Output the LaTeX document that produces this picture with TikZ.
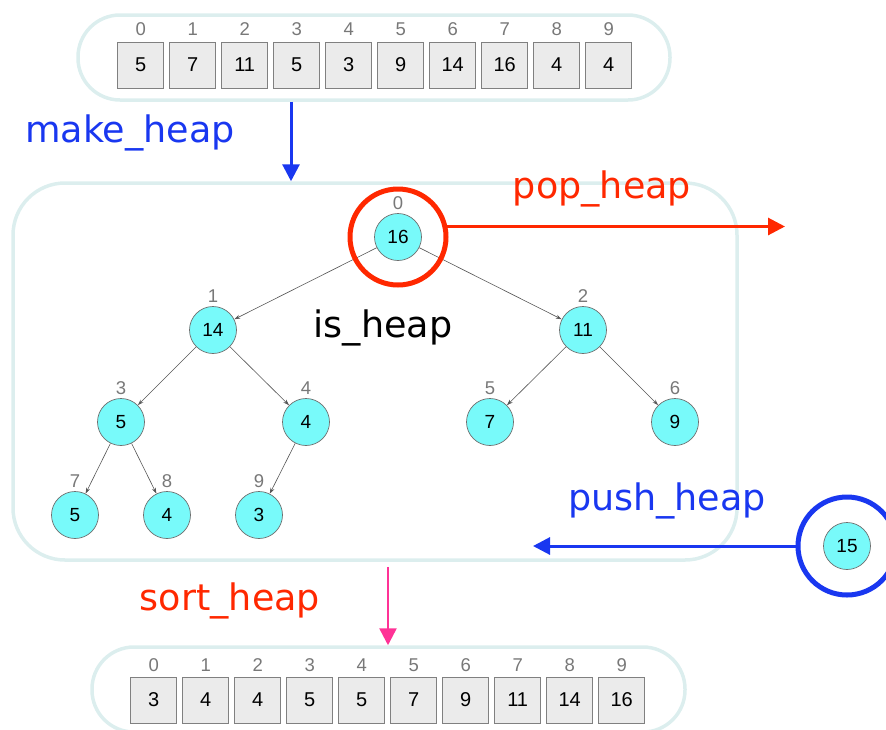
\documentclass[tikz,border=0pt]{standalone}
\usepackage{fontspec}
\setmainfont{Liberation Sans}
\newfontfamily\opfont{DejaVu Sans}
\usepackage{xcolor}
\usepackage{tikz}
\usetikzlibrary{arrows.meta}

\definecolor{opazul}{RGB}{25,55,240}
\definecolor{oprojo}{RGB}{255,40,0}
\definecolor{oprosa}{RGB}{255,50,150}
\definecolor{cajaborde}{RGB}{220,238,238}
\definecolor{celdafondo}{RGB}{235,235,235}
\definecolor{celdaborde}{RGB}{128,128,128}
\definecolor{nodofondo}{RGB}{120,250,250}
\definecolor{nodoborde}{RGB}{110,110,110}
\definecolor{indicegris}{RGB}{120,120,120}
\definecolor{aristagris}{RGB}{85,85,85}

\begin{document}
\begin{tikzpicture}[x=1pt,y=-1pt,
		celda/.style={draw=celdaborde, fill=celdafondo, line width=0.9pt, minimum width=46pt, minimum height=46pt, inner sep=0pt, font=\fontsize{20}{22}\selectfont},
		indice/.style={text=indicegris, inner sep=0pt, font=\fontsize{18.5}{20}\selectfont},
		nodo/.style={circle, draw=nodoborde, fill=nodofondo, line width=0.7pt, minimum size=47pt, inner sep=0pt, font=\fontsize{19}{21}\selectfont},
		caja/.style={draw=cajaborde, line width=3.5pt, inner sep=0pt},
		anillo/.style={circle, line width=5pt, inner sep=0pt},
		operacion/.style={font=\opfont\fontsize{36.5}{40}\selectfont, inner sep=0pt, anchor=base},
		arista/.style={draw=aristagris, line width=0.6pt, -{Stealth[length=6pt,width=4pt]}},
		flecha/.style={line width=3pt, -{Triangle[length=17pt,width=17pt]}}
	]
		\useasboundingbox (0,0) rectangle (886,729);
		\clip (0,0) rectangle (886,729);
		
		% cajas redondeadas de fondo
		\node[caja, rounded corners=42pt, minimum width=592pt, minimum height=85pt] (cajaini) at (374,57.5) {};
		\node[caja, rounded corners=52pt, minimum width=724pt, minimum height=377pt] (cajaheap) at (375,371.5) {};
		\node[caja, rounded corners=42pt, minimum width=593pt, minimum height=85pt] (cajafin) at (388.5,689.5) {};
		
		% vector inicial con sus índices
		\foreach \v [count=\i from 0] in {5,7,11,5,3,9,14,16,4,4} {
			\node[celda] (ini\i) at (140.7+52*\i,65) {\v};
			\node[indice] (iniidx\i) at (140.7+52*\i,29) {\i};
		}
		
		% vector ordenado con sus índices
		\foreach \v [count=\i from 0] in {3,4,4,5,5,7,9,11,14,16} {
			\node[celda] (fin\i) at (153.7+52*\i,700) {\v};
			\node[indice] (finidx\i) at (153.7+52*\i,665) {\i};
		}
		
		% nodos del montículo: índice/x/y/valor
		\foreach \i/\x/\y/\v in {0/398/237/16,1/213/330/14,2/583/330/11,3/121/422/5,4/306/422/4,5/490/422/7,6/675/422/9,7/75/515/5,8/167/515/4,9/259/515/3} {
			\node[nodo] (h\i) at (\x,\y) {\v};
			\node[indice] (hidx\i) at (\x,\y-34) {\i};
		}
		
		% aristas padre -> hijo
		\foreach \p/\c in {0/1,0/2,1/3,1/4,2/5,2/6,3/7,3/8,4/9}
			\draw[arista] (h\p) -- (h\c);
		
		% make_heap
		\coordinate (mk) at (291,0);
		\draw[flecha, opazul] (cajaini.south -| mk) -- (cajaheap.north -| mk);
		\node[operacion, text=opazul] (txtmake) at (130,142) {make\_heap};
		
		% is_heap
		\node[operacion, text=black] (txtis) at (383,337) {is\_heap};
		
		% pop_heap
		\node[anillo, draw=oprojo, minimum size=96pt] (anillopop) at (h0) {};
		\coordinate (finpop) at (785,226);
		\draw[flecha, oprojo] (anillopop.12) -- (anillopop.12 -| finpop);
		\node[operacion, text=oprojo] (txtpop) at (602,198) {pop\_heap};
		
		% push_heap
		\node[nodo] (h15) at (847,546) {15};
		\node[anillo, draw=opazul, minimum size=98pt] (anillopush) at (h15) {};
		\coordinate (finpush) at (533,546);
		\draw[flecha, opazul] (anillopush.west) -- (finpush);
		\node[operacion, text=opazul] (txtpush) at (667,510) {push\_heap};
		
		% sort_heap
		\coordinate (so) at (388,0);
		\draw[flecha, oprosa, line width=2.5pt, shorten <=5pt] (cajaheap.south -| so) -- (cajafin.north -| so);
		\node[operacion, text=oprojo] (txtsort) at (230,610) {sort\_heap};
	\end{tikzpicture}
\end{document}
